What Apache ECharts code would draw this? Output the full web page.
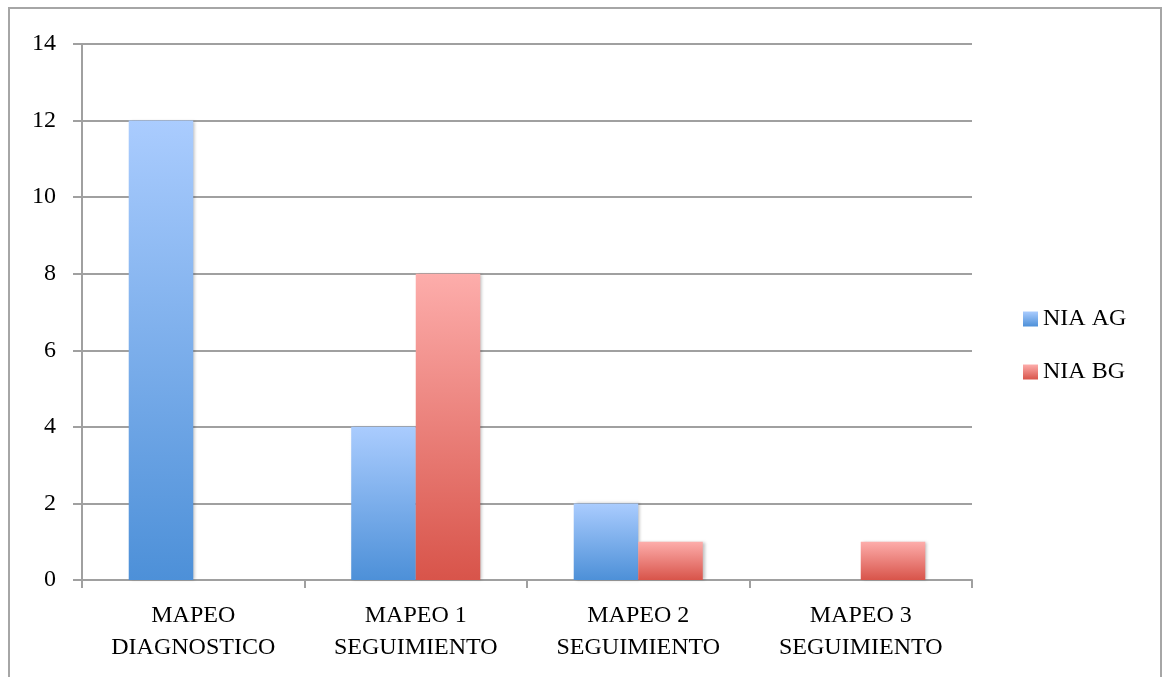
<!DOCTYPE html>
<html>
<head>
<meta charset="utf-8">
<title>Mapeo</title>
<script src="https://cdn.jsdelivr.net/npm/echarts@6/dist/echarts.min.js"></script>
<style>
	html, body { margin: 0; padding: 0; background: #fff; }
	#chart { width: 1165px; height: 677px; }
</style>
</head>
<body>
<div id="chart"></div>
<script>
/* datos del grafico */
var categorias = ["MAPEO\nDIAGNOSTICO", "MAPEO 1\nSEGUIMIENTO", "MAPEO 2\nSEGUIMIENTO", "MAPEO 3\nSEGUIMIENTO"];
var nombres = ["NIA AG", "NIA BG"];
var niaAG = [12, 4, 2, 0];
var niaBG = [0, 8, 1, 1];
var ticksY = [0, 2, 4, 6, 8, 10, 12, 14];

var fuente = "Liberation Serif";

// degradado vertical para cada serie
function degradado(arriba, abajo) {
	return new echarts.graphic.LinearGradient(0, 0, 0, 1, [
		{ offset: 0, color: arriba },
		{ offset: 1, color: abajo }
	]);
}

var myChart = echarts.init(document.getElementById("chart"));
myChart.setOption({
	animation: false,
	backgroundColor: "#fff",
	textStyle: { fontFamily: fuente },
	// marco exterior
	graphic: [{
		type: "rect",
		shape: { x: 9, y: 8, width: 1152, height: 720 },
		style: { fill: "none", stroke: "#a6a6a6", lineWidth: 2 },
		silent: true
	}],
	grid: { left: 82, right: 193, top: 44, bottom: 97 },
	legend: {
		orient: "vertical",
		left: 1018,
		top: 302,
		itemWidth: 15,
		itemHeight: 15,
		itemGap: 29,
		icon: "rect",
		textStyle: { fontFamily: fuente, fontSize: 24, color: "#000" },
		data: nombres
	},
	xAxis: {
		type: "category",
		data: categorias,
		axisLine: { lineStyle: { color: "#a0a0a0", width: 2 } },
		axisTick: { show: true, length: 8, lineStyle: { color: "#a0a0a0", width: 2 } },
		axisLabel: { fontFamily: fuente, fontSize: 24, color: "#000", lineHeight: 32, margin: 20, interval: 0 }
	},
	yAxis: {
		type: "value",
		min: ticksY[0],
		max: ticksY[ticksY.length - 1],
		interval: 2,
		axisLine: { show: true, lineStyle: { color: "#a0a0a0", width: 2 } },
		axisTick: { show: true, length: 9, lineStyle: { color: "#a0a0a0", width: 2 } },
		axisLabel: { fontFamily: fuente, fontSize: 24, color: "#000", margin: 26 },
		splitLine: { lineStyle: { color: "#a0a0a0", width: 2 } }
	},
	series: [
		{
			name: nombres[0],
			type: "bar",
			data: niaAG,
			barGap: "0%",
			barCategoryGap: "42%",
			itemStyle: {
				color: degradado("#aaccfe", "#4d90d8"),
				shadowColor: "rgba(0,0,0,0.25)",
				shadowBlur: 3,
				shadowOffsetX: 2
			}
		},
		{
			name: nombres[1],
			type: "bar",
			data: niaBG,
			barGap: "0%",
			barCategoryGap: "42%",
			itemStyle: {
				color: degradado("#fdadab", "#d8544a"),
				shadowColor: "rgba(0,0,0,0.25)",
				shadowBlur: 3,
				shadowOffsetX: 2
			}
		}
	]
});
</script>
</body>
</html>
